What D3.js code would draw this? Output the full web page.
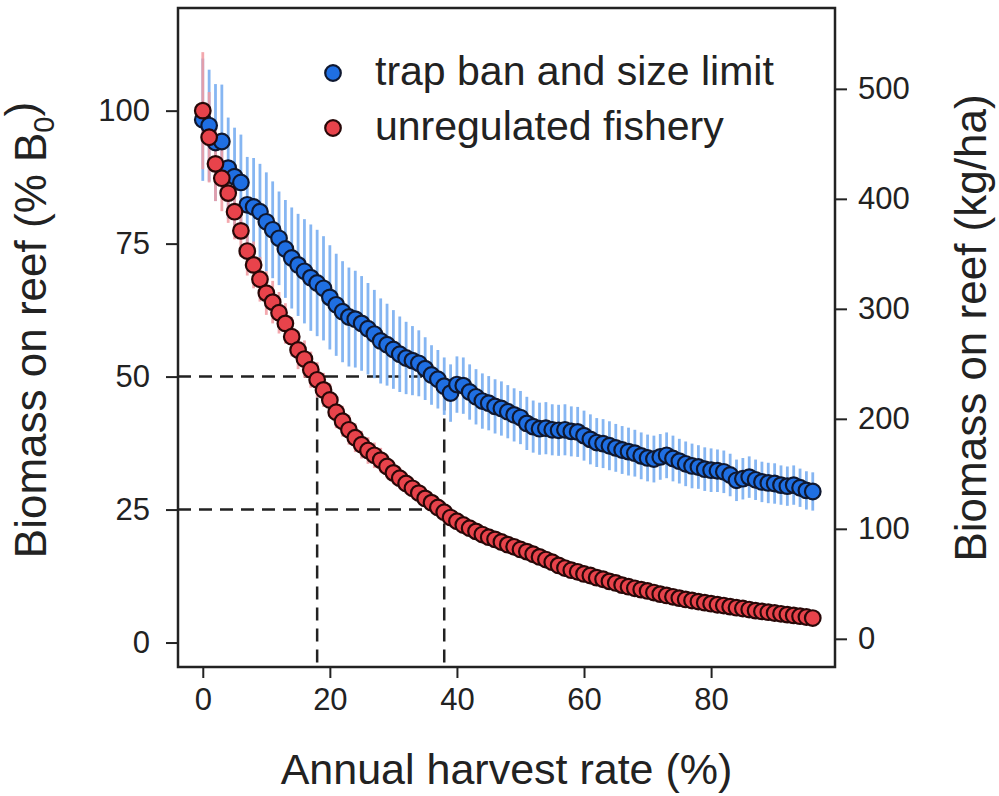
<!DOCTYPE html>
<html>
<head>
<meta charset="utf-8">
<script src="https://cdn.jsdelivr.net/npm/d3@7"></script>
<style>
	body { margin: 0; background: #fff; }
	svg { display: block; font-family: "Liberation Sans", Arial, sans-serif; }
</style>
</head>
<body>
<svg width="999" height="796"></svg>
<script>
// annual harvest rate (%) for each simulated point
const rates = [
	0, 1, 2, 3, 4, 5, 6, 7, 8, 9,
	10, 11, 12, 13, 14, 15, 16, 17, 18, 19,
	20, 21, 22, 23, 24, 25, 26, 27, 28, 29,
	30, 31, 32, 33, 34, 35, 36, 37, 38, 39,
	40, 41, 42, 43, 44, 45, 46, 47, 48, 49,
	50, 51, 52, 53, 54, 55, 56, 57, 58, 59,
	60, 61, 62, 63, 64, 65, 66, 67, 68, 69,
	70, 71, 72, 73, 74, 75, 76, 77, 78, 79,
	80, 81, 82, 83, 84, 85, 86, 87, 88, 89,
	90, 91, 92, 93, 94, 95, 96
];

// biomass (% B0), trap ban and size limit
const trapBan = [
	98.3, 97.2, 94.0, 94.2, 89.2, 87.6, 86.5, 82.3, 81.9, 81.0,
	79.1, 77.6, 76.0, 74.0, 72.3, 71.0, 69.8, 68.6, 67.6, 66.6,
	64.9, 63.5, 62.2, 61.2, 60.8, 60.0, 59.0, 58.0, 56.7, 56.0,
	55.1, 54.2, 53.5, 53.0, 52.5, 51.5, 50.3, 49.5, 48.2, 46.9,
	48.5, 48.3, 47.1, 46.2, 45.4, 45.0, 44.4, 44.0, 43.4, 42.8,
	42.3, 41.2, 40.6, 40.2, 40.3, 40.0, 39.9, 40.0, 39.7, 39.6,
	38.9, 38.2, 37.6, 37.4, 37.0, 36.6, 36.2, 35.9, 35.6, 35.1,
	34.7, 34.5, 34.9, 35.2, 34.6, 34.1, 33.6, 33.2, 33.0, 32.6,
	32.4, 32.3, 32.1, 31.5, 30.5, 30.8, 31.1, 30.6, 30.2, 30.0,
	29.9, 29.6, 29.4, 29.6, 29.1, 28.6, 28.4
];
const trapBanErr = [
	11.5, 10.5, 11.0, 10.7, 9.5, 9.2, 9.0, 9.0, 9.2, 9.0,
	9.3, 9.1, 8.8, 9.2, 9.5, 9.6, 9.8, 10.0, 10.0, 9.8,
	9.8, 9.6, 9.5, 9.3, 9.1, 8.9, 8.6, 8.3, 8.0, 7.7,
	7.4, 7.1, 6.8, 6.5, 6.2, 5.9, 5.6, 5.5, 5.4, 5.4,
	5.3, 5.3, 5.2, 5.2, 5.2, 5.1, 5.1, 5.1, 5.0, 5.0,
	5.0, 5.0, 4.9, 4.9, 4.9, 4.8, 4.8, 4.8, 4.7, 4.7,
	4.7, 4.7, 4.6, 4.6, 4.6, 4.5, 4.5, 4.5, 4.4, 4.4,
	4.4, 4.4, 4.3, 4.3, 4.3, 4.2, 4.2, 4.2, 4.1, 4.1,
	4.1, 4.0, 4.0, 4.0, 3.9, 3.9, 3.9, 3.8, 3.8, 3.8,
	3.8, 3.7, 3.7, 3.7, 3.6, 3.6, 3.6
];

// biomass (% B0), unregulated fishery
const unregulated = [
	100, 95, 90, 87.3, 84.5, 81, 77.4, 73.6, 71, 68.3,
	65.7, 64, 62, 60, 57.5, 55, 53.3, 51.3, 49.4, 47.5,
	45.6, 43.3, 41.6, 40, 38.5, 37.2, 36.1, 35.2, 34.3, 33.1,
	31.9, 30.9, 29.9, 29.0, 28.1, 27.1, 26.3, 25.4, 24.5, 23.5,
	22.8, 22.1, 21.5, 20.9, 20.3, 19.8, 19.4, 18.9, 18.4, 18.0,
	17.5, 17.1, 16.6, 16.1, 15.6, 15.1, 14.5, 14.0, 13.6, 13.3,
	12.9, 12.6, 12.2, 11.9, 11.5, 11.2, 10.8, 10.5, 10.2, 9.95,
	9.7, 9.4, 9.1, 8.85, 8.6, 8.35, 8.1, 7.9, 7.7, 7.5,
	7.3, 7.1, 6.95, 6.75, 6.55, 6.4, 6.2, 6.0, 5.85, 5.7,
	5.55, 5.4, 5.25, 5.1, 4.95, 4.8, 4.6
];
const unregulatedErr = [
	11.0, 8.5, 7.0, 6.2, 5.6, 5.2, 4.9, 4.6, 4.4, 4.2,
	4.1, 4.0, 3.9, 3.8, 3.7, 3.6, 3.5, 3.4, 3.3, 3.2,
	3.1, 3.0, 2.9, 2.8, 2.7, 2.6, 2.5, 2.4, 2.3, 2.2,
	2.1, 2.0, 1.95, 1.9, 1.85, 1.8, 1.7, 1.6, 1.5, 1.45,
	1.4, 1.35, 1.3, 1.25, 1.2, 1.15, 1.1, 1.05, 1.0, 1.0,
	0.95, 0.95, 0.9, 0.9, 0.9, 0.85, 0.85, 0.8, 0.8, 0.8,
	0.75, 0.75, 0.75, 0.7, 0.7, 0.7, 0.7, 0.65, 0.65, 0.65,
	0.65, 0.6, 0.6, 0.6, 0.6, 0.6, 0.55, 0.55, 0.55, 0.55,
	0.55, 0.5, 0.5, 0.5, 0.5, 0.5, 0.5, 0.5, 0.45, 0.45,
	0.45, 0.45, 0.45, 0.45, 0.4, 0.4, 0.4
];

const xTicks = [0, 20, 40, 60, 80];
const yTicks = [0, 25, 50, 75, 100];
const kgTicks = [0, 100, 200, 300, 400, 500];
const seriesNames = ["trap ban and size limit", "unregulated fishery"];

// reference lines: 50% and 25% of B0, reached at 18% and 38% harvest
const refLevels = [50, 25];
const refRates = [18, 38];

const svg = d3.select("svg");
const width = +svg.attr("width");
const height = +svg.attr("height");

const margin = { top: 8, right: 164, bottom: 129, left: 178 };
const innerWidth = width - margin.left - margin.right;
const innerHeight = height - margin.top - margin.bottom;

const xScale = d3.scaleLinear().domain([-3.9, 99.5]).range([0, innerWidth]);
const yScale = d3.scaleLinear().domain([-4.6, 119.3]).range([innerHeight, 0]);
const kgScale = d3.scaleLinear().domain([0, 500]).range([yScale(0.7), yScale(104.1)]);

const colors = {
	blue: { fill: "#1f6fe3", stroke: "#0f1830", err: "#80b3f2" },
	red: { fill: "#e8434b", stroke: "#280808", err: "#f29aa0" }
};

const group = svg.append("g")
	.attr("transform", `translate(${margin.left}, ${margin.top})`);

// axes
const styleAxis = g => {
	g.attr("font-size", 31)
		.attr("font-family", "'Liberation Sans', Arial, sans-serif");
	g.select(".domain").remove();
	g.selectAll(".tick line").attr("stroke", "#222").attr("stroke-width", 2);
	g.selectAll(".tick text").attr("fill", "#222");
};

group.append("g")
	.call(d3.axisLeft(yScale).tickValues(yTicks).tickSize(12).tickPadding(16))
	.call(styleAxis);

group.append("g")
	.attr("transform", `translate(${innerWidth}, 0)`)
	.call(d3.axisRight(kgScale).tickValues(kgTicks).tickSize(12).tickPadding(11))
	.call(styleAxis);

group.append("g")
	.attr("transform", `translate(0, ${innerHeight})`)
	.call(d3.axisBottom(xScale).tickValues(xTicks).tickSize(11).tickPadding(10))
	.call(styleAxis);

// dashed reference lines
const dash = group.append("g")
	.attr("stroke", "#222")
	.attr("stroke-width", 2.5)
	.attr("stroke-dasharray", "13,8")
	.attr("fill", "none");

refLevels.forEach(level => {
	dash.append("line")
		.attr("x1", 0).attr("x2", xScale(refRates[1]))
		.attr("y1", yScale(level)).attr("y2", yScale(level));
});
refRates.forEach(rate => {
	dash.append("line")
		.attr("x1", xScale(rate)).attr("x2", xScale(rate))
		.attr("y1", yScale(refLevels[0])).attr("y2", innerHeight);
});

const toPoints = (values, errs) => rates.map((r, i) => ({ x: r, y: values[i], e: errs[i] }));
const bluePts = toPoints(trapBan, trapBanErr);
const redPts = toPoints(unregulated, unregulatedErr);

// error bars
const drawErr = (pts, color, opacity) => {
	group.append("g").selectAll("line").data(pts)
		.enter().append("line")
			.attr("x1", d => xScale(d.x)).attr("x2", d => xScale(d.x))
			.attr("y1", d => yScale(d.y - d.e)).attr("y2", d => yScale(d.y + d.e))
			.attr("stroke", color)
			.attr("stroke-width", 2.8)
			.attr("opacity", opacity);
};
drawErr(bluePts, colors.blue.err, 0.95);
drawErr(redPts, colors.red.err, 0.85);

// points
const drawPts = (pts, c) => {
	group.append("g").selectAll("circle").data(pts)
		.enter().append("circle")
			.attr("cx", d => xScale(d.x))
			.attr("cy", d => yScale(d.y))
			.attr("r", 7.8)
			.attr("fill", c.fill)
			.attr("stroke", c.stroke)
			.attr("stroke-width", 2.2);
};
drawPts(bluePts, colors.blue);
drawPts(redPts, colors.red);

// frame
group.append("rect")
	.attr("width", innerWidth)
	.attr("height", innerHeight)
	.attr("fill", "none")
	.attr("stroke", "#222")
	.attr("stroke-width", 2.5);

// legend
const legend = svg.append("g").attr("transform", "translate(333, 73)");
[colors.blue, colors.red].forEach((c, i) => {
	const row = legend.append("g").attr("transform", `translate(0, ${i * 55})`);
	row.append("circle")
		.attr("r", 7.8)
		.attr("fill", c.fill)
		.attr("stroke", c.stroke)
		.attr("stroke-width", 2.2);
	row.append("text")
		.attr("x", 42)
		.attr("dy", "0.3em")
		.attr("fill", "#222")
		.attr("font-size", 41)
		.text(seriesNames[i]);
});

// axis titles
svg.append("text")
	.attr("x", margin.left + innerWidth / 2)
	.attr("y", 784)
	.attr("text-anchor", "middle")
	.attr("fill", "#222")
	.attr("font-size", 43)
	.text("Annual harvest rate (%)");

const leftTitle = svg.append("text")
	.attr("transform", "translate(46, 330) rotate(-90)")
	.attr("text-anchor", "middle")
	.attr("fill", "#222")
	.attr("font-size", 44);
leftTitle.append("tspan").text("Biomass on reef (% B");
leftTitle.append("tspan").attr("dy", "0.28em").attr("font-size", 29).text("0");
leftTitle.append("tspan").attr("dy", "-0.42em").text(")");

svg.append("text")
	.attr("transform", "translate(986, 328) rotate(-90)")
	.attr("text-anchor", "middle")
	.attr("fill", "#222")
	.attr("font-size", 44)
	.text("Biomass on reef (kg/ha)");
</script>
</body>
</html>
